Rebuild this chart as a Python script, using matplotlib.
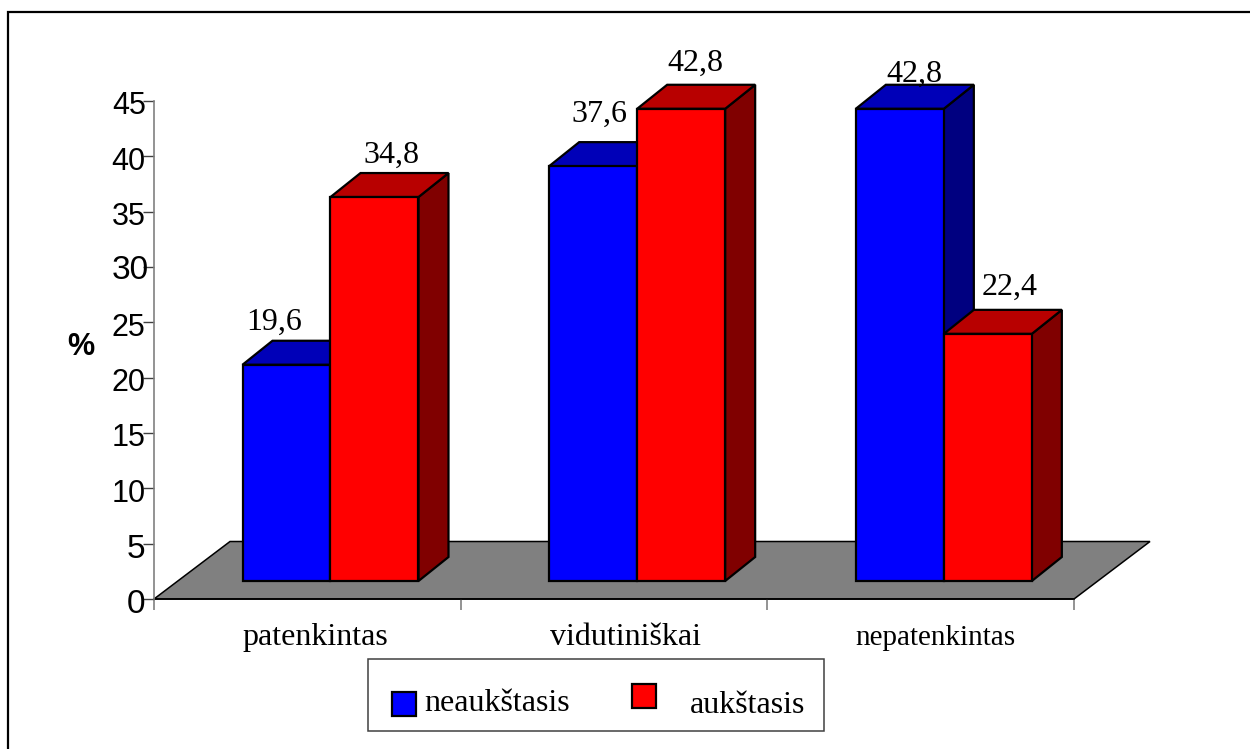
import matplotlib
matplotlib.use("Agg")
import matplotlib.pyplot as plt
from matplotlib.lines import Line2D
from matplotlib.patches import Polygon, Rectangle
from matplotlib.transforms import ScaledTranslation

categories = ["patenkintas", "vidutiniškai", "nepatenkintas"]
series_names = ["neaukštasis", "aukštasis"]
low_values = [19.6, 37.6, 42.8]
high_values = [34.8, 42.8, 22.4]
value_labels_low = ["19,6", "37,6", "42,8"]
value_labels_high = ["34,8", "42,8", "22,4"]
y_ticks = [0, 5, 10, 15, 20, 25, 30, 35, 40, 45]

W, H = 1250, 749
SERIF = "Liberation Serif"
SANS = "Liberation Sans"
TEXT_SIZE = 23

fig = plt.figure(figsize=(W / 100, H / 100), dpi=100, facecolor="white")

# Plot area spans the category axis and the value axis
left, right, top, bottom = 154, 1074, 101, 599
ax = fig.add_axes([left / W, 1 - bottom / H, (right - left) / W, (bottom - top) / H])
ax.set_xlim(0, 3)
ax.set_ylim(0, 45)
ax.patch.set_visible(False)

# Pixel-to-data scale factors for the oblique projection
ux = 3 / (right - left)
uy = 45 / (bottom - top)

floor_dx, floor_dy = 76 * ux, 57.5 * uy
bar_dx, bar_dy = 30 * ux, 24 * uy
base = 18 * uy
bar_w = 88 * ux
offset = 88.5 * ux

# Floor of the 3D scene
ax.add_patch(Polygon([(0, 0), (floor_dx, floor_dy), (3 + floor_dx, floor_dy), (3, 0)],
                     closed=True, fc="#808080", ec="black", lw=1.1, clip_on=False, zorder=1))


def draw_bar(x, value, front, lid, side, z):
    y1 = base + value * 0.997
    kw = dict(closed=True, ec="black", lw=1.6, joinstyle="miter", clip_on=False, zorder=z)
    ax.add_patch(Polygon([(x + bar_w, base), (x + bar_w + bar_dx, base + bar_dy),
                          (x + bar_w + bar_dx, y1 + bar_dy), (x + bar_w, y1)], fc=side, **kw))
    ax.add_patch(Polygon([(x, y1), (x + bar_dx, y1 + bar_dy),
                          (x + bar_w + bar_dx, y1 + bar_dy), (x + bar_w, y1)], fc=lid, **kw))
    ax.add_patch(Polygon([(x, base), (x, y1), (x + bar_w, y1), (x + bar_w, base)], fc=front, **kw))


def value_text(x, value, label, nudge_x, lift):
    # lift is the gap in pixels between the lid's back edge and the text baseline
    ax.text(x + bar_w / 2 + bar_dx + nudge_x * ux, base + value + bar_dy + lift * uy, label,
            family=SERIF, fontsize=TEXT_SIZE, ha="center", va="baseline", color="black",
            zorder=10, clip_on=False)


low_nudges = [(-42, 10), (-24, 19), (-15, 2)]
high_nudges = [(-13, 9), (-16, 13), (-8, 14)]
for i in range(3):
    x0 = i + offset
    x1 = x0 + bar_w
    draw_bar(x0, low_values[i], "#0000ff", "#0000b8", "#000080", 3)
    draw_bar(x1, high_values[i], "#ff0000", "#b80000", "#800000", 4)
    value_text(x0, low_values[i], value_labels_low[i], *low_nudges[i])
    value_text(x1, high_values[i], value_labels_high[i], *high_nudges[i])

# Axes: value ticks on the left, category boundaries below
for side in ("top", "right"):
    ax.spines[side].set_visible(False)
ax.spines["left"].set_color("#808080")
ax.spines["left"].set_linewidth(1.2)
ax.spines["bottom"].set_color("black")
ax.spines["bottom"].set_linewidth(1.2)
ax.spines["bottom"].set_zorder(2)

ax.set_yticks(y_ticks)
ax.set_yticklabels([str(v) for v in y_ticks], family=SANS, fontsize=22)
ax.tick_params(axis="y", length=8, width=1, color="#404040", pad=-2)
label_drop = ScaledTranslation(0, -2 / 100, fig.dpi_scale_trans)
for tick, value in zip(ax.yaxis.get_major_ticks(), y_ticks):
    tick.label1.set_transform(tick.label1.get_transform() + label_drop)
    if value in (0, 5, 30):
        tick.label1.set_fontsize(24)
    if value == 30:
        tick.set_pad(-4)
ax.set_xticks([0, 1, 2, 3])
ax.set_xticklabels([])
ax.tick_params(axis="x", length=8, width=1.2, color="#808080")

category_nudges = [8, 12, 15]
category_sizes = [TEXT_SIZE, TEXT_SIZE, 21]
for i, name in enumerate(categories):
    ax.text(i + 0.5 + category_nudges[i] * ux, -4.15, name, family=SERIF,
            fontsize=category_sizes[i], ha="center", va="baseline", clip_on=False)

fig.text(81 / W, 1 - 347 / H, "%", family=SANS, fontsize=22, fontweight="bold",
         ha="center", va="center")

# Chart frame runs off the canvas, so only its top and left edges show
fig.add_artist(Line2D([7.5 / W, 7.5 / W, 1], [0, 1 - 11.5 / H, 1 - 11.5 / H],
                      transform=fig.transFigure, color="black", lw=1.6,
                      solid_joinstyle="miter"))

# Legend box with hand-placed entries
fig.add_artist(Rectangle((367.5 / W, 1 - 730.5 / H), 456 / W, 72 / H, transform=fig.transFigure,
                         fc="white", ec="#404040", lw=1.1))
fig.add_artist(Rectangle((391.5 / W, 1 - 715.5 / H), 24 / W, 24 / H, transform=fig.transFigure,
                         fc="#0000ff", ec="black", lw=1.6))
fig.add_artist(Rectangle((631.5 / W, 1 - 707.5 / H), 24 / W, 24 / H, transform=fig.transFigure,
                         fc="#ff0000", ec="black", lw=1.6))
fig.text(424 / W, 1 - 711 / H, series_names[0], family=SERIF, fontsize=TEXT_SIZE, va="baseline")
fig.text(690 / W, 1 - 713 / H, series_names[1], family=SERIF, fontsize=TEXT_SIZE, va="baseline")

fig.savefig("out.png", dpi=100, facecolor="white")
